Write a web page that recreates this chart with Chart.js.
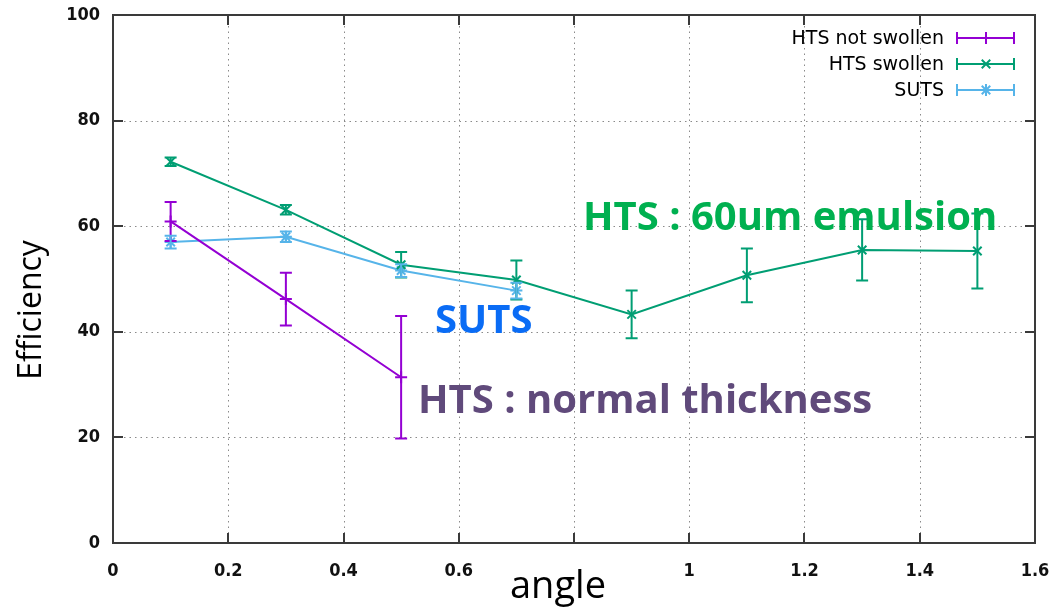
<!DOCTYPE html>
<html>
<head>
<meta charset="utf-8">
<title>Efficiency vs angle</title>
<script src="https://cdn.jsdelivr.net/npm/chart.js@4.4.1/dist/chart.umd.min.js"></script>
<style>
  html, body { margin: 0; padding: 0; background: #fff; }
  #chart { display: block; }
</style>
</head>
<body>
<canvas id="chart" width="1055" height="613"></canvas>
<script>
// Efficiency (%) vs angle for each emulsion type, with symmetric errors
var angles = [0.1, 0.3, 0.5, 0.7, 0.9, 1.1, 1.3, 1.5];
var htsNotSwollen = [60.9, 46.2, 31.4];
var htsNotSwollenErr = [3.7, 5.0, 11.6];
var htsSwollen = [72.2, 63.1, 52.7, 49.8, 43.3, 50.7, 55.5, 55.3];
var htsSwollenErr = [0.8, 0.9, 2.4, 3.7, 4.5, 5.1, 5.8, 7.1];
var suts = [57.0, 58.0, 51.6, 47.8];
var sutsErr = [1.2, 1.0, 1.2, 1.5];

var seriesNames = ["HTS not swollen", "HTS swollen", "SUTS"];
var xTicks = [0, 0.2, 0.4, 0.6, 0.8, 1, 1.2, 1.4, 1.6];
var xTickLabels = ["0", "0.2", "0.4", "0.6", "", "1", "1.2", "1.4", "1.6"];
var yTicks = [0, 20, 40, 60, 80, 100];

var PURPLE = "#9400d3";
var GREEN = "#009e73";
var BLUE = "#56b4e9";

function toPoints(values, errs) {
  return values.map(function (v, i) {
    return { x: angles[i], y: v, err: errs[i] };
  });
}

function series(label, values, errs, color, style) {
  return {
    label: label,
    data: toPoints(values, errs),
    showLine: true,
    borderColor: color,
    backgroundColor: color,
    borderWidth: 2,
    pointStyle: style,
    pointRadius: 6,
    pointBorderWidth: 2,
    pointBorderColor: color,
    pointBackgroundColor: color,
    fill: false,
  };
}

// keep the plot box where the layout padding puts it
function noScalePadding(scale) {
  scale.paddingTop = 0;
  scale.paddingBottom = 0;
  scale.paddingLeft = 0;
  scale.paddingRight = 0;
}

// dotted grid, box frame and inward tick marks
var framePlugin = {
  id: "frame",
  beforeDatasetsDraw: function (chart) {
    var ctx = chart.ctx;
    var a = chart.chartArea;
    var xs = chart.scales.x, ys = chart.scales.y;
    ctx.save();
    ctx.strokeStyle = "#8a8a8a";
    ctx.lineWidth = 1;
    ctx.setLineDash([1.5, 4]);
    xTicks.forEach(function (v) {
      var px = Math.round(xs.getPixelForValue(v)) + 0.5;
      ctx.beginPath(); ctx.moveTo(px, a.top); ctx.lineTo(px, a.bottom); ctx.stroke();
    });
    yTicks.forEach(function (v) {
      var py = Math.round(ys.getPixelForValue(v)) + 0.5;
      ctx.beginPath(); ctx.moveTo(a.left, py); ctx.lineTo(a.right, py); ctx.stroke();
    });
    ctx.setLineDash([]);
    ctx.strokeStyle = "#3a3a3a";
    ctx.lineWidth = 2;
    ctx.strokeRect(a.left, a.top, a.right - a.left, a.bottom - a.top);
    var tl = 10;
    ctx.beginPath();
    xTicks.forEach(function (v) {
      var px = Math.round(xs.getPixelForValue(v));
      ctx.moveTo(px, a.bottom); ctx.lineTo(px, a.bottom - tl);
      ctx.moveTo(px, a.top); ctx.lineTo(px, a.top + tl);
    });
    yTicks.forEach(function (v) {
      var py = Math.round(ys.getPixelForValue(v));
      ctx.moveTo(a.left, py); ctx.lineTo(a.left + tl, py);
      ctx.moveTo(a.right, py); ctx.lineTo(a.right - tl, py);
    });
    ctx.stroke();
    ctx.restore();
  },
};

// vertical error bars with end caps
var errorBarPlugin = {
  id: "errorBars",
  afterDatasetsDraw: function (chart) {
    var ctx = chart.ctx;
    var ys = chart.scales.y;
    ctx.save();
    ctx.lineWidth = 2;
    chart.data.datasets.forEach(function (ds, di) {
      var meta = chart.getDatasetMeta(di);
      ctx.strokeStyle = ds.borderColor;
      meta.data.forEach(function (pt, i) {
        var d = ds.data[i];
        var top = ys.getPixelForValue(d.y + d.err);
        var bot = ys.getPixelForValue(d.y - d.err);
        var x = pt.x, cap = 6;
        ctx.beginPath();
        ctx.moveTo(x, top); ctx.lineTo(x, bot);
        ctx.moveTo(x - cap, top); ctx.lineTo(x + cap, top);
        ctx.moveTo(x - cap, bot); ctx.lineTo(x + cap, bot);
        ctx.stroke();
      });
    });
    ctx.restore();
  },
};

// key in the top right corner, text left of the sample
var keyPlugin = {
  id: "key",
  afterDraw: function (chart) {
    var ctx = chart.ctx;
    var rows = [38, 64, 90];
    ctx.save();
    ctx.font = "19px 'DejaVu Sans'";
    ctx.textAlign = "right";
    ctx.textBaseline = "middle";
    chart.data.datasets.forEach(function (ds, i) {
      var y = rows[i];
      ctx.fillStyle = "#000";
      ctx.fillText(seriesNames[i], 944, y + 1);
      ctx.strokeStyle = ds.borderColor;
      ctx.lineWidth = 2;
      ctx.beginPath();
      ctx.moveTo(957, y); ctx.lineTo(1014, y);
      ctx.moveTo(957, y - 6); ctx.lineTo(957, y + 6);
      ctx.moveTo(1014, y - 6); ctx.lineTo(1014, y + 6);
      ctx.stroke();
      Chart.helpers.drawPoint(ctx, {
        pointStyle: ds.pointStyle,
        radius: 6,
        rotation: 0,
        borderWidth: 2,
      }, 986, y);
    });
    ctx.restore();
  },
};

// axis titles and the text notes inside the plot
var notesPlugin = {
  id: "notes",
  afterDraw: function (chart) {
    var ctx = chart.ctx;
    ctx.save();
    ctx.fillStyle = "#000";
    ctx.font = "32px 'Open Sans'";
    ctx.textAlign = "center";
    ctx.textBaseline = "alphabetic";
    ctx.save();
    ctx.translate(41, 310);
    ctx.rotate(-Math.PI / 2);
    ctx.fillText("Efficiency", 0, 0);
    ctx.restore();
    ctx.font = "38px 'Open Sans'";
    ctx.fillText("angle", 558, 598);

    ctx.textAlign = "left";
    ctx.font = "bold 40px 'Open Sans'";
    ctx.fillStyle = "#00b050";
    ctx.fillText("HTS : 60um emulsion", 583, 230);
    ctx.fillStyle = "#0a6cf5";
    ctx.fillText("SUTS", 435, 333);
    ctx.fillStyle = "#604a7b";
    ctx.fillText("HTS : normal thickness", 418, 413);
    ctx.restore();
  },
};

var tickFont = { family: "'DejaVu Sans Condensed', 'DejaVu Sans'", size: 18, weight: "bold" };

new Chart(document.getElementById("chart"), {
  type: "scatter",
  data: {
    datasets: [
      series(seriesNames[0], htsNotSwollen, htsNotSwollenErr, PURPLE, "cross"),
      series(seriesNames[1], htsSwollen, htsSwollenErr, GREEN, "crossRot"),
      series(seriesNames[2], suts, sutsErr, BLUE, "star"),
    ],
  },
  options: {
    responsive: false,
    animation: false,
    devicePixelRatio: 1,
    layout: { padding: { top: 15, right: 20, left: 0, bottom: 0 } },
    plugins: {
      legend: { display: false },
      tooltip: { enabled: false },
    },
    scales: {
      x: {
        type: "linear",
        min: 0,
        max: 1.6,
        grid: { display: false },
        border: { display: false },
        afterBuildTicks: function (scale) {
          scale.ticks = xTicks.map(function (v) { return { value: v }; });
        },
        afterFit: function (scale) {
          scale.height = 70;
          noScalePadding(scale);
        },
        ticks: {
          autoSkip: false,
          maxRotation: 0,
          padding: 10,
          color: "#111",
          font: tickFont,
          callback: function (v, i) { return xTickLabels[i]; },
        },
      },
      y: {
        type: "linear",
        min: 0,
        max: 100,
        grid: { display: false },
        border: { display: false },
        afterBuildTicks: function (scale) {
          scale.ticks = yTicks.map(function (v) { return { value: v }; });
        },
        afterFit: function (scale) {
          scale.width = 113;
          noScalePadding(scale);
        },
        ticks: {
          padding: 5,
          color: "#111",
          font: tickFont,
          callback: function (v) { return String(v); },
        },
      },
    },
  },
  plugins: [framePlugin, errorBarPlugin, keyPlugin, notesPlugin],
});
</script>
</body>
</html>
